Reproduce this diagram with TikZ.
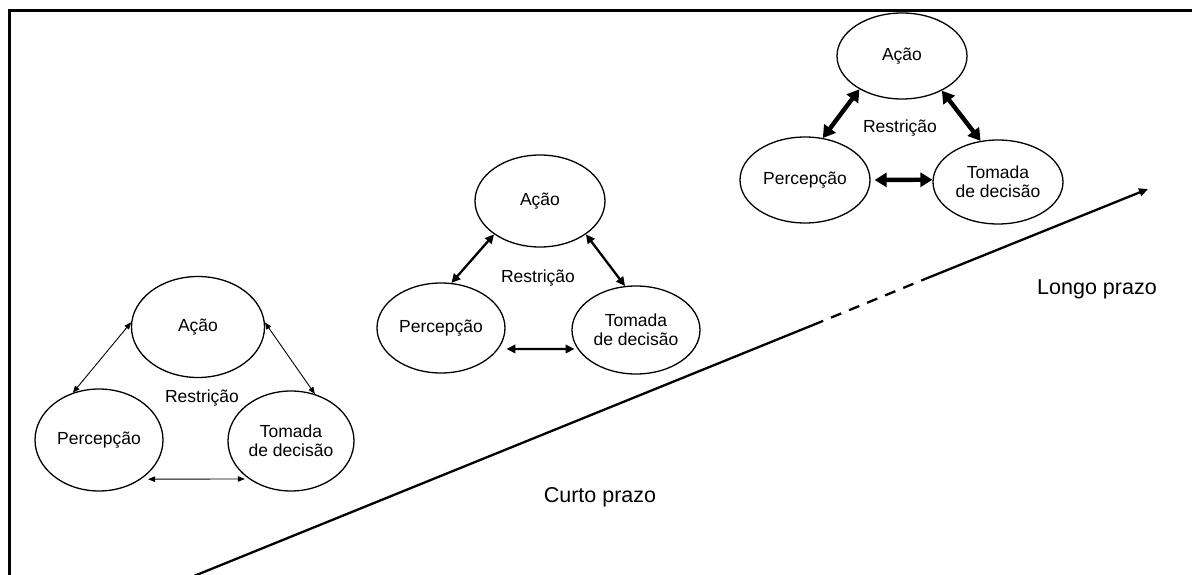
\documentclass[tikz,border=0pt]{standalone}
\usepackage{fontspec}
\setmainfont{Liberation Sans}
\usetikzlibrary{shapes.geometric,arrows.meta}
\begin{document}
\begin{tikzpicture}[x=1pt,y=-1pt,
  stage/.style={draw=black, line width=1.3pt, ellipse, inner sep=0pt,
    font=\fontsize{17.5}{19}\selectfont, align=center},
  lbl/.style={inner sep=0pt, font=\fontsize{17.5}{19}\selectfont},
  termtext/.style={inner sep=0pt, font=\fontsize{21.5}{24}\selectfont},
  thinlink/.style={line width=0.9pt,
    {Triangle[length=7pt,width=5.5pt]}-{Triangle[length=7pt,width=5.5pt]}},
  midlink/.style={line width=2.3pt,
    {Triangle[length=9pt,width=8.5pt]}-{Triangle[length=9pt,width=8.5pt]}},
  thicklink/.style={line width=4.4pt,
    {Triangle[length=12pt,width=14pt]}-{Triangle[length=12pt,width=14pt]}},
  axis/.style={line width=2.3pt, line cap=butt}
]
\useasboundingbox (0,0) rectangle (1192,575);
\clip (0,0) rectangle (1192,575);

% frame
\draw[line width=2.7pt] (9.7,600) -- (9.7,10.3) -- (1250,10.3);

% short-term loop
\node[stage, minimum width=133pt, minimum height=101pt] (A1) at (198,327) {Ação};
\node[stage, minimum width=128pt, minimum height=102pt] (P1) at (99,440) {Percepção};
\node[stage, minimum width=126pt, minimum height=100pt] (T1) at (291,441) {Tomada\\de decisão};
\node[lbl] (R1) at (202,398) {Restrição};
\draw[thinlink] (A1.176) -- (P1.119);
\draw[thinlink] (A1.4) -- (T1.63);
\draw[thinlink, shorten <=7pt, shorten >=4pt] (P1.-43.4) -- (T1.222.9);

% intermediate loop
\node[stage, minimum width=130pt, minimum height=92pt] (A2) at (540,201) {Ação};
\node[stage, minimum width=128pt, minimum height=90pt] (P2) at (441,328) {Percepção};
\node[stage, minimum width=128pt, minimum height=88pt] (T2) at (636,330) {Tomada\\de decisão};
\node[lbl] (R2) at (538,278) {Restrição};
\draw[midlink] (A2.216) -- (P2.77);
\draw[midlink] (A2.-36) -- (T2.104);
\draw[midlink, shorten <=8pt, shorten >=3pt] (P2.-20.4) -- (T2.198.2);

% long-term loop
\node[stage, minimum width=130pt, minimum height=86pt] (A3) at (902,56) {Ação};
\node[stage, minimum width=130pt, minimum height=86pt] (P3) at (805,180) {Percepção};
\node[stage, minimum width=130pt, minimum height=84pt] (T3) at (998,182) {Tomada\\de decisão};
\node[lbl] (R3) at (900,128) {Restrição};
\draw[thicklink] (A3.218) -- (P3.67);
\draw[thicklink] (A3.-41) -- (T3.113);
\draw[thicklink, shorten <=4pt] (P3.0) -- (T3.178);

% time axis
\coordinate (t0) at (194,576);
\coordinate (t1) at (813,325);
\coordinate (t2) at (925,279);
\coordinate (t3) at (1148,189);
\draw[axis] (t0) -- (t1);
\draw[axis, dash pattern=on 11pt off 8.5pt] (t1) -- (t2);
\draw[axis, -{Triangle[length=9pt,width=8pt]}] (t2) -- (t3);

\node[termtext] (short) at (600,497) {Curto prazo};
\node[termtext] (long) at (1097,289) {Longo prazo};
\end{tikzpicture}
\end{document}
